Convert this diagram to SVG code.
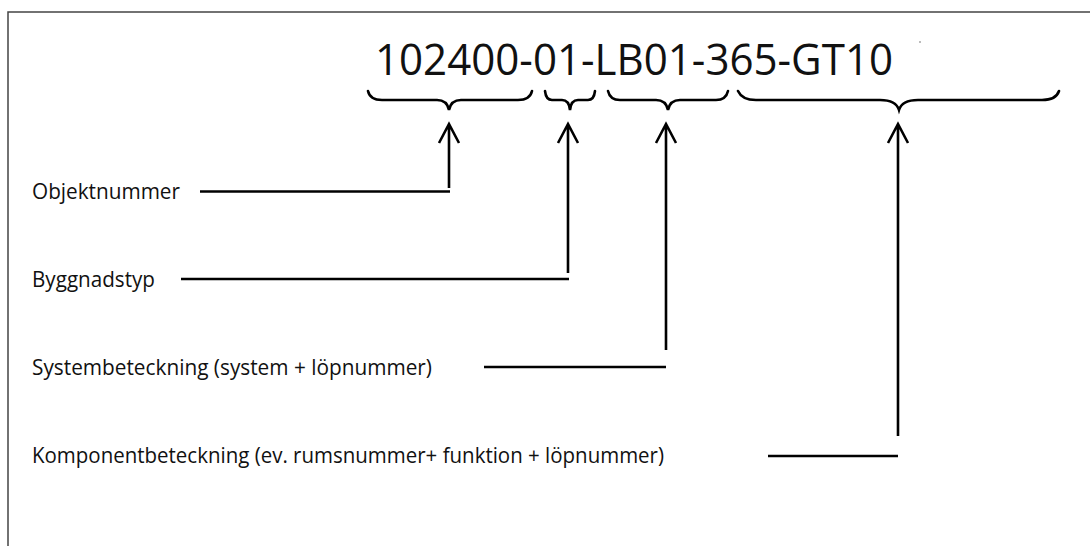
<svg xmlns="http://www.w3.org/2000/svg" width="1090" height="546" viewBox="0 0 1090 546">
<style>
.lbl{font-family:"Open Sans","Liberation Sans",sans-serif;font-size:21px;fill:#111}
.ttl{font-family:"Open Sans","Liberation Sans",sans-serif;font-size:43px;fill:#111}
.ln{stroke:#000;stroke-width:2.6;fill:none}
.br{stroke:#000;stroke-width:2.6;fill:none;stroke-linecap:round}
</style>
<rect width="1090" height="546" fill="#fff"/>
<path d="M8,600 L8,12 L1100,12" fill="none" stroke="#444" stroke-width="1.5"/>
<circle cx="920" cy="42" r="0.8" fill="#666"/>
<g id="title"><text class="ttl" x="375" y="75" textLength="518" lengthAdjust="spacingAndGlyphs">102400-01-LB01-365-GT10</text></g>
<g id="braces">
<path class="br" d="M368,91 Q370,100 382,100 L437,100 Q447,100 449,110 Q451,100 461,100 L518,100 Q530,100 532,91"/>
<path class="br" d="M545,91 Q546,100 552,100 L562,100 Q569,100 570,110 Q571,100 578,100 L588,100 Q594,100 595,91"/>
<path class="br" d="M608,91 Q610,100 620,100 L656,100 Q666,100 668,110 Q670,100 680,100 L716,100 Q726,100 728,91"/>
<path class="br" d="M738,91 Q742,100 756,100 L880,100 Q896,100 899,110 Q902,100 918,100 L1042,100 Q1056,100 1059,91"/>
</g>
<g id="labels">
<g id="n1"><text class="lbl" x="32" y="199" textLength="148" lengthAdjust="spacingAndGlyphs">Objektnummer</text></g>
<g id="n2"><text class="lbl" x="32" y="287" textLength="123" lengthAdjust="spacingAndGlyphs">Byggnadstyp</text></g>
<g id="n3"><text class="lbl" x="32" y="375" textLength="400" lengthAdjust="spacingAndGlyphs">Systembeteckning (system + löpnummer)</text></g>
<g id="n4"><text class="lbl" x="32" y="463" textLength="632" lengthAdjust="spacingAndGlyphs">Komponentbeteckning (ev. rumsnummer+ funktion + löpnummer)</text></g>
</g>
<g id="connectors">
<path class="ln" d="M439,143 L449,124 L459,143 M449,124 L449,188"/>
<path class="ln" d="M200,191.5 L450,191.5"/>
<path class="ln" d="M558,143 L568,124 L578,143 M568,124 L568,273"/>
<path class="ln" d="M181,279 L569,279"/>
<path class="ln" d="M656,143 L666,124 L676,143 M666,124 L666,350"/>
<path class="ln" d="M484,367 L666,367"/>
<path class="ln" d="M888,143 L898,124 L908,143 M898,124 L898,436"/>
<path class="ln" d="M768,456 L898,456"/>
</g>
</svg>
